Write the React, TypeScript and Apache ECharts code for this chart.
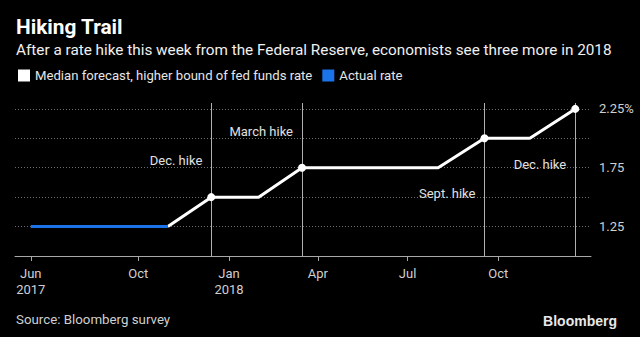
import React, { useEffect, useRef } from "react";
import * as echarts from "echarts";

const FONT = "Roboto";

// Data
const actualDates = ["2017-06-14", "2017-10-31"];
const actualValues = [1.25, 1.25];

const forecastDates = [
  "2017-10-31",
  "2017-12-14",
  "2018-01-31",
  "2018-03-16",
  "2018-08-01",
  "2018-09-17",
  "2018-11-02",
  "2018-12-18",
];
const forecastValues = [1.25, 1.5, 1.5, 1.75, 1.75, 2.0, 2.0, 2.25];

const hikeDates = ["2017-12-14", "2018-03-16", "2018-09-17", "2018-12-18"];
const hikeLabels = ["Dec. hike", "March hike", "Sept. hike", "Dec. hike"];
const hikeLabelLevels = [1.81, 2.06, 1.53, 1.78];

const xTickDates = ["2017-06-14", "2017-10-01", "2018-01-01", "2018-04-01", "2018-07-01", "2018-10-01"];
const xTickLabels = ["Jun\n2017", "Oct", "Jan\n2018", "Apr", "Jul", "Oct"];

const yTickValues = [1.25, 1.75, 2.25];
const yTickLabels = ["1.25", "1.75", "2.25%"];

const xMin = "2017-05-29";
const xMax = "2019-01-03";
const yMin = 1.0;
const yMax = 2.3;

const ts = (s: string) => {
  const [y, m, d] = s.split("-").map(Number);
  return Date.UTC(y, m - 1, d);
};

export default function App() {
  const ref = useRef<HTMLDivElement>(null);
  useEffect(() => {
    if (!ref.current) return;
    const chart = echarts.init(ref.current, null, { renderer: "svg" });
    const xTickTimes = xTickDates.map(ts);
    const hikeSet = new Set(hikeDates.map(ts));
    const forecastData = forecastDates.map((d, i) => {
      const t = ts(d);
      return hikeSet.has(t)
        ? { value: [t, forecastValues[i]] }
        : { value: [t, forecastValues[i]], symbol: "none" };
    });
    const actualData = actualDates.map((d, i) => [ts(d), actualValues[i]]);

    chart.setOption({
      animation: false,
      backgroundColor: "#000",
      textStyle: { fontFamily: FONT },
      grid: { left: 15, right: 49, top: 103, bottom: 81, containLabel: false },
      legend: {
        left: 18,
        top: 69,
        padding: 0,
        icon: "rect",
        itemWidth: 12,
        itemHeight: 12,
        itemGap: 10,
        textStyle: { color: "#e6e6e6", fontSize: 13.15, fontFamily: FONT },
        data: ["Median forecast, higher bound of fed funds rate", "Actual rate"],
      },
      xAxis: {
        type: "value",
        min: ts(xMin),
        max: ts(xMax),
        axisLine: { show: true, onZero: false, lineStyle: { color: "#a8a8a8", width: 1 } },
        axisTick: {
          show: true,
          length: 5,
          customValues: xTickTimes,
          lineStyle: { color: "#a8a8a8" },
        },
        axisLabel: {
          customValues: xTickTimes,
          margin: 9,
          color: "#d0d0d0",
          fontSize: 13,
          lineHeight: 16,
          fontFamily: FONT,
          formatter: (v: number) => {
            const i = xTickTimes.indexOf(v);
            return i >= 0 ? xTickLabels[i] : "";
          },
        },
        splitLine: { show: false },
      },
      yAxis: {
        type: "value",
        position: "right",
        min: yMin,
        max: yMax,
        interval: 0.25,
        axisLine: { show: false },
        axisTick: { show: false },
        axisLabel: {
          customValues: yTickValues,
          margin: 8,
          color: "#d0d0d0",
          fontSize: 13,
          fontFamily: FONT,
          formatter: (v: number) => {
            const i = yTickValues.findIndex((t) => Math.abs(t - v) < 1e-6);
            return i >= 0 ? yTickLabels[i] : "";
          },
        },
        splitLine: {
          show: true,
          showMinLine: false,
          showMaxLine: false,
          lineStyle: { color: "#6e6e6e", type: [1, 2], width: 1 },
        },
      },
      series: [
        {
          name: "Median forecast, higher bound of fed funds rate",
          type: "line",
          data: forecastData,
          color: "#ffffff",
          lineStyle: { color: "#ffffff", width: 3 },
          symbol: "circle",
          symbolSize: 8,
          showSymbol: true,
          itemStyle: { color: "#ffffff" },
          z: 3,
          markLine: {
            silent: true,
            symbol: "none",
            label: { show: false },
            lineStyle: { color: "#b0b0b0", width: 1, type: "solid" },
            data: hikeDates.map((d) => ({ xAxis: ts(d) })),
            z: 1,
          },
          markPoint: {
            silent: true,
            symbol: "circle",
            symbolSize: 0,
            itemStyle: { color: "transparent" },
            label: {
              show: true,
              position: "left",
              distance: 9,
              color: "#e0e0e0",
              fontSize: 13,
              fontFamily: FONT,
            },
            data: hikeDates.map((d, i) => ({
              coord: [ts(d), hikeLabelLevels[i]],
              label: { formatter: hikeLabels[i] },
            })),
          },
        },
        {
          name: "Actual rate",
          type: "line",
          data: actualData,
          color: "#1a73e8",
          lineStyle: { color: "#1a73e8", width: 3 },
          showSymbol: false,
          symbol: "none",
          z: 4,
        },
      ],
      graphic: [
        {
          type: "text",
          x: 16,
          y: 26.5,
          style: {
            text: "Hiking Trail",
            fill: "#ffffff",
            font: `bold 20.8px ${FONT}`,
            align: "left",
            verticalAlign: "middle",
          },
        },
        {
          type: "text",
          x: 16,
          y: 49.5,
          style: {
            text: "After a rate hike this week from the Federal Reserve, economists see three more in 2018",
            fill: "#f0f0f0",
            font: `15.3px ${FONT}`,
            align: "left",
            verticalAlign: "middle",
          },
        },
        {
          type: "text",
          x: 16,
          y: 319,
          style: {
            text: "Source: Bloomberg survey",
            fill: "#d0d0d0",
            font: `13.3px ${FONT}`,
            align: "left",
            verticalAlign: "middle",
          },
        },
        {
          type: "text",
          x: 617,
          y: 320.5,
          style: {
            text: "Bloomberg",
            fill: "#e8e8e8",
            font: `bold 14px "Liberation Sans", Arial, sans-serif`,
            align: "right",
            verticalAlign: "middle",
          },
        },
      ],
    });
    return () => chart.dispose();
  }, []);
  return (
    <div
      ref={ref}
      style={{ position: "fixed", left: 0, top: 0, width: 640, height: 337, background: "#000" }}
    />
  );
}
